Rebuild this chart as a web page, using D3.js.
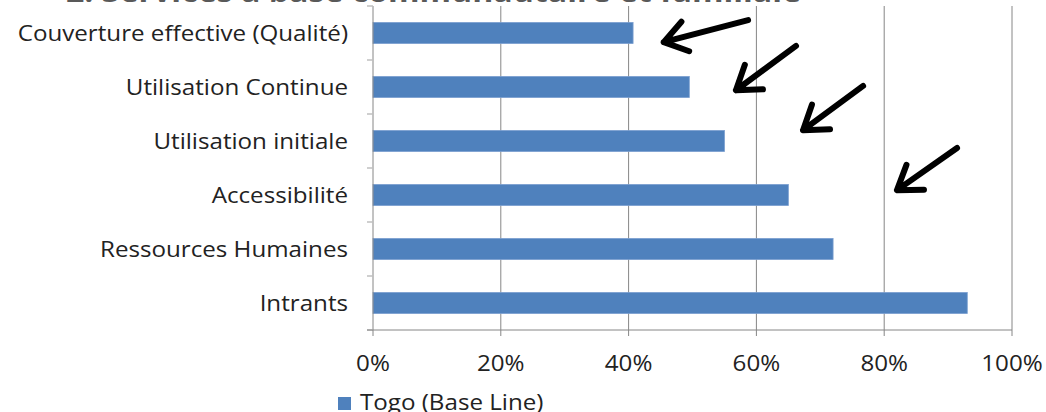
<!DOCTYPE html>
<html>
<head>
<meta charset="utf-8">
<script src="https://cdn.jsdelivr.net/npm/d3@7"></script>
<style>
  body { margin: 0; background: #fff; }
  svg { display: block; }
  text { font-family: "Open Sans", sans-serif; }
</style>
</head>
<body>
<svg id="chart" width="1046" height="412"></svg>
<script>
// data
const categories = ['Couverture effective (Qualité)', 'Utilisation Continue', 'Utilisation initiale',
                    'Accessibilité', 'Ressources Humaines', 'Intrants']
const values = [40.7, 49.5, 55, 65, 72, 93]
const tickValues = [0, 20, 40, 60, 80, 100]
const seriesName = 'Togo (Base Line)'
const title = '2. Services à base communautaire et familiale'

// arrows drawn on the chart, in data units (x: %, y: category index)
const arrows = [
    {x1: 58.7, y1: 0.26, x2: 45.5, y2: 0.67},
    {x1: 66.2, y1: 0.74, x2: 56.8, y2: 1.56},
    {x1: 76.7, y1: 1.48, x2: 67.3, y2: 2.30},
    {x1: 91.4, y1: 2.63, x2: 82.0, y2: 3.41}
]

const margin = {left: 373, right: 34, top: 6, bottom: 82}
const width = 1046 - margin.left - margin.right
const height = 412 - margin.top - margin.bottom
const stretch = 1.15   // the source text is rendered a bit wide

const svg = d3.select('#chart')

function widen(sel) {
    sel.each(function() {
        let w = this.getComputedTextLength()
        d3.select(this)
            .attr('textLength', w * stretch)
            .attr('lengthAdjust', 'spacingAndGlyphs')
    })
}

// title, mostly cut off at the top
svg.append('text')
    .attr('x', 66)
    .attr('y', 1.5)
    .attr('textLength', 735)
    .attr('lengthAdjust', 'spacingAndGlyphs')
    .attr('font-size', 28)
    .attr('font-weight', 'bold')
    .attr('fill', '#595959')
    .text(title)

const g = svg.append('g').attr('transform', `translate(${margin.left},${margin.top})`)

let xScale = d3.scaleLinear().domain([0, 100]).range([0, width])
let yScale = d3.scaleBand().domain(categories).range([0, height])
    .paddingInner(0.61).paddingOuter(0.305)
let yIndex = d3.scaleLinear().domain([0, categories.length]).range([0, height])

// gridlines
g.selectAll('.grid')
    .data(tickValues.slice(1))
    .join('line')
    .attr('class', 'grid')
    .attr('x1', d => xScale(d)).attr('x2', d => xScale(d))
    .attr('y1', 0).attr('y2', height)
    .attr('stroke', '#868686')
    .attr('stroke-width', 1)

// bars
g.selectAll('.bar')
    .data(values)
    .join('rect')
    .attr('class', 'bar')
    .attr('x', 0)
    .attr('y', (d, i) => yScale(categories[i]))
    .attr('width', d => xScale(d))
    .attr('height', yScale.bandwidth())
    .attr('fill', '#4f81bd')
    .attr('stroke', '#7a9fd0')
    .attr('stroke-width', 0.8)

// y axis
g.append('line')
    .attr('x1', 0).attr('x2', 0).attr('y1', 0).attr('y2', height)
    .attr('stroke', '#868686')
g.selectAll('.ytick')
    .data(d3.range(categories.length + 1))
    .join('line')
    .attr('class', 'ytick')
    .attr('x1', -6).attr('x2', 0)
    .attr('y1', d => yIndex(d)).attr('y2', d => yIndex(d))
    .attr('stroke', '#bfbfbf')
    .attr('stroke-width', 1.5)
g.selectAll('.ylabel')
    .data(categories)
    .join('text')
    .attr('class', 'ylabel')
    .attr('x', -25)
    .attr('y', d => yScale(d) + yScale.bandwidth() / 2)
    .attr('dy', '0.36em')
    .attr('text-anchor', 'end')
    .attr('font-size', 21)
    .attr('fill', '#222')
    .text(d => d)
    .call(widen)

// x axis
g.append('line')
    .attr('x1', -6).attr('x2', width).attr('y1', height).attr('y2', height)
    .attr('stroke', '#868686')
g.selectAll('.xtick')
    .data(tickValues)
    .join('line')
    .attr('class', 'xtick')
    .attr('x1', d => xScale(d)).attr('x2', d => xScale(d))
    .attr('y1', height).attr('y2', height + 6)
    .attr('stroke', '#868686')
g.selectAll('.xlabel')
    .data(tickValues)
    .join('text')
    .attr('class', 'xlabel')
    .attr('x', d => xScale(d))
    .attr('y', height + 41)
    .attr('text-anchor', 'middle')
    .attr('font-size', 21)
    .attr('fill', '#222')
    .text(d => d + '%')
    .call(widen)

// arrows
const arrowPath = a => {
    let x1 = xScale(a.x1), y1 = yIndex(a.y1), x2 = xScale(a.x2), y2 = yIndex(a.y2)
    let ang = Math.atan2(y1 - y2, x1 - x2)
    let len = 27, spread = 0.6
    let p = d3.path()
    p.moveTo(x1, y1)
    p.lineTo(x2, y2)
    p.moveTo(x2 + len * Math.cos(ang - spread), y2 + len * Math.sin(ang - spread))
    p.lineTo(x2, y2)
    p.lineTo(x2 + len * Math.cos(ang + spread), y2 + len * Math.sin(ang + spread))
    return p.toString()
}
g.selectAll('.arrow')
    .data(arrows)
    .join('path')
    .attr('class', 'arrow')
    .attr('d', arrowPath)
    .attr('fill', 'none')
    .attr('stroke', '#000')
    .attr('stroke-width', 6)
    .attr('stroke-linecap', 'round')
    .attr('stroke-linejoin', 'round')

// legend
const legend = svg.append('g').attr('transform', 'translate(338,397)')
legend.append('rect')
    .attr('width', 13).attr('height', 13)
    .attr('fill', '#4f81bd')
legend.append('text')
    .attr('x', 22)
    .attr('y', 13)
    .attr('font-size', 21)
    .attr('fill', '#222')
    .text(seriesName)
    .call(widen)
</script>
</body>
</html>
